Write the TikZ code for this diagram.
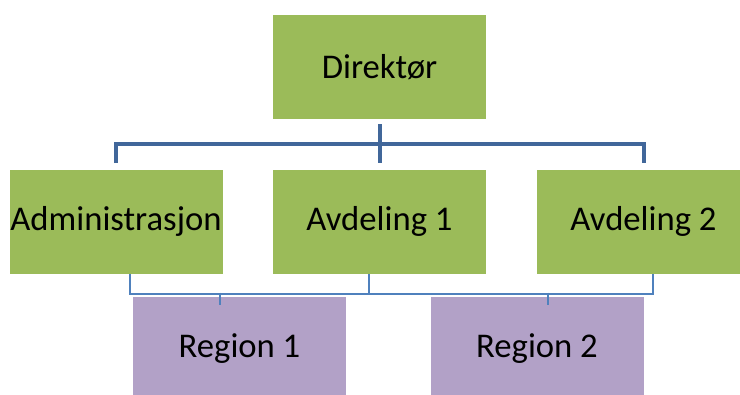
\documentclass[tikz,border=0pt]{standalone}
\usepackage{fontspec}
\setmainfont{Carlito}
\usetikzlibrary{calc}
\definecolor{unitgreen}{HTML}{9BBB59}
\definecolor{regionpurple}{HTML}{B2A1C7}
\definecolor{bardark}{HTML}{41679A}
\definecolor{barlight}{HTML}{4F81BD}

\begin{document}
\begin{tikzpicture}[x = 0.75pt, y = -0.75pt,
    unit/.style = {fill = unitgreen, minimum width = 159.75pt, minimum height = 78pt,
      inner sep = 0pt, font = \fontsize{26}{30}\selectfont},
    region/.style = {unit, fill = regionpurple},
    mainbar/.style = {draw = bardark, line width = 3pt},
    subbar/.style = {draw = barlight, line width = 1.1pt}]
        \useasboundingbox (0, 0) rectangle (740, 394);

        \node [unit] (dir) at (379.5, 67) {Direktør};
        \node [unit] (adm) at (116, 221.5) {Administrasjon};
        \node [unit] (av1) at (379.5, 221.5) {Avdeling 1};
        \node [unit] (av2) at (643.5, 221.5) {Avdeling 2};
        \node [region] (reg1) at (239.5, 349) {Region 1};
        \node [region] (reg2) at (537, 349) {Region 2};

        \coordinate (bar) at ($(dir.south)!0.5!(av1.north)$);
        \draw [mainbar] ($(dir.south) + (0, 5)$) -- ($(av1.north) + (0, -6)$);
        \draw [mainbar] ($(adm.north) + (0, -6)$) |- (bar) -| ($(av2.north) + (0, -6)$);

        \coordinate (hub) at ($(av1.south) + (-10.5, 20)$);
        \draw [subbar] ($(adm.south) + (14, 0)$) |- (hub) -| ($(av2.south) + (9.5, 0)$);
        \draw [subbar] (hub) -- ($(av1.south) + (-10.5, 0)$);

        \foreach \r/\dx in {reg1/-19.5, reg2/11} {
          \draw [subbar] ($(\r.north) + (\dx, -4)$) -- ($(\r.north) + (\dx, 8)$);
        }
\end{tikzpicture}
\end{document}
